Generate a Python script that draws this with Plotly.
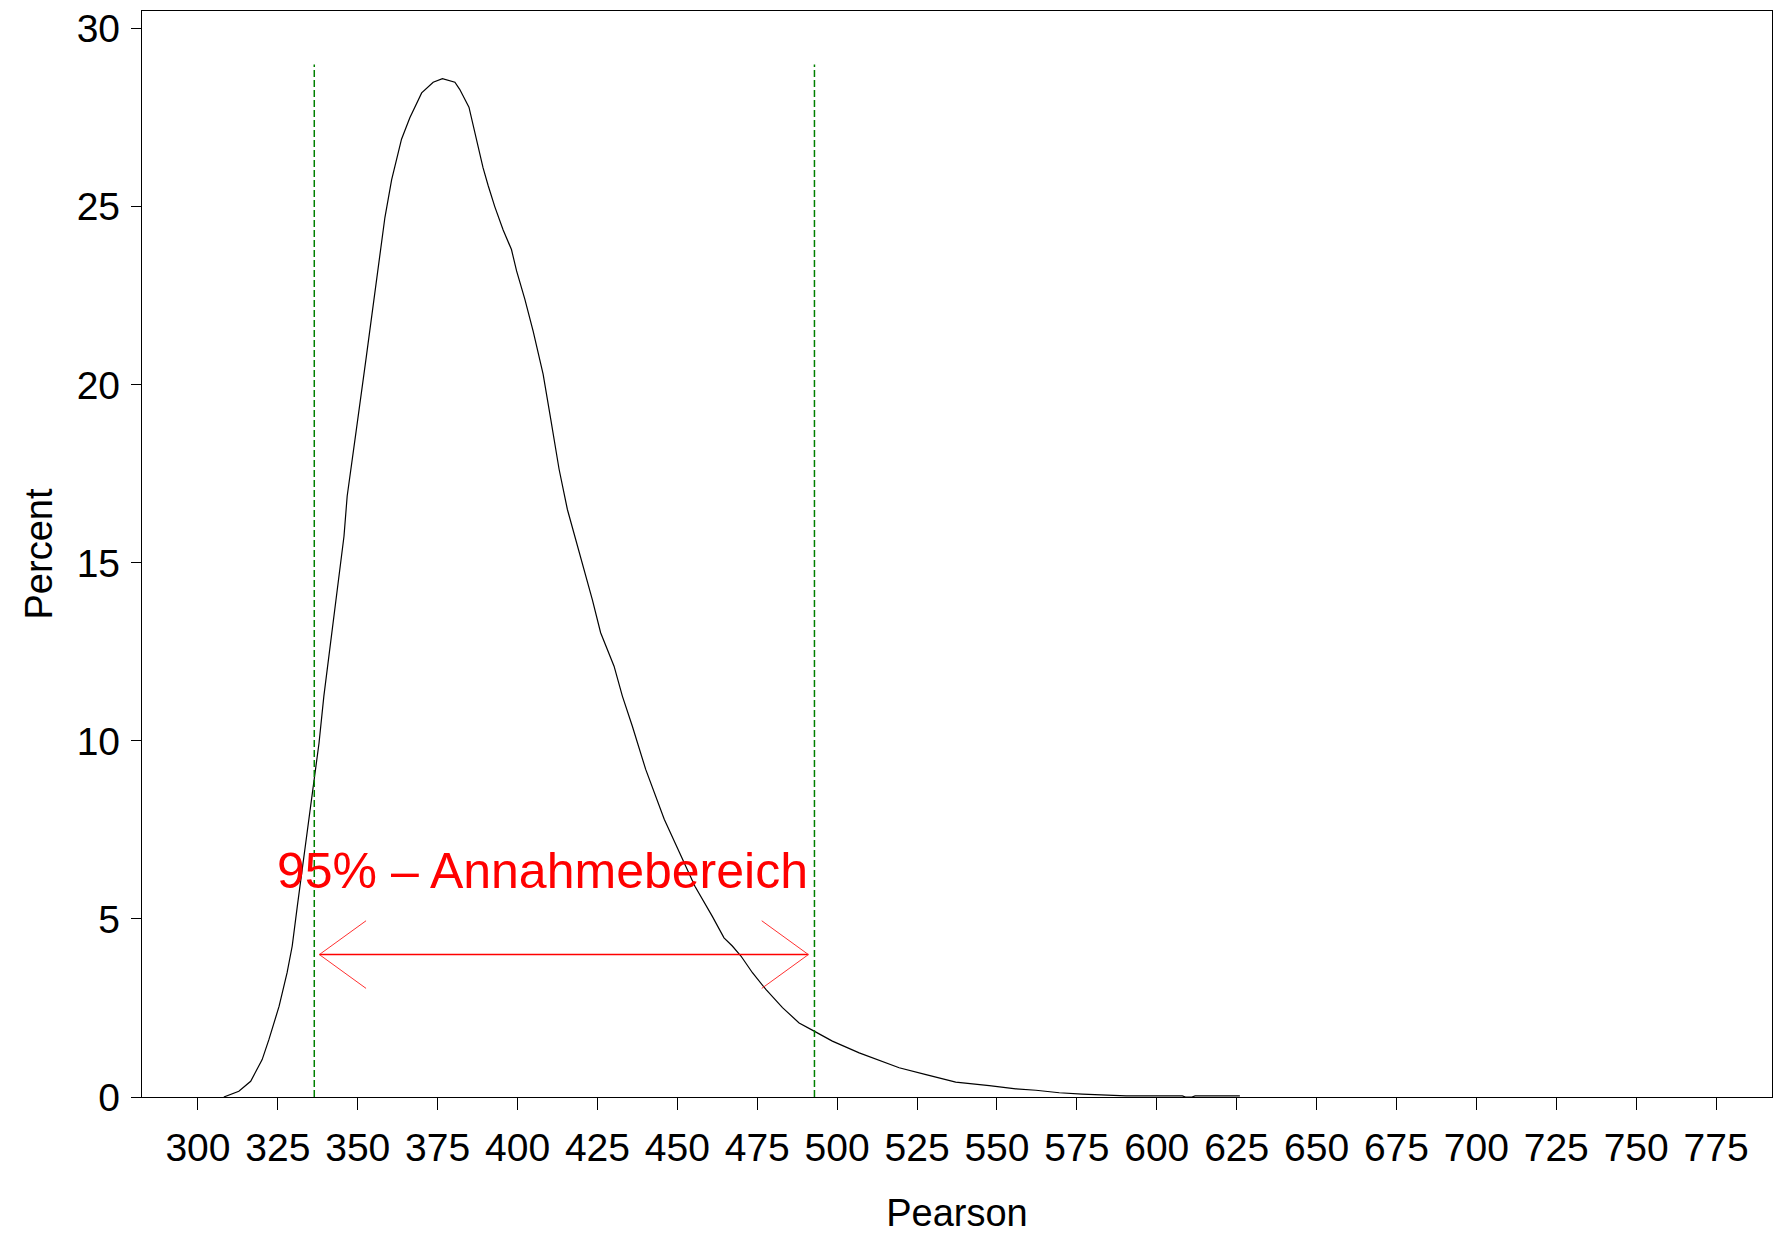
import plotly.graph_objects as go

# Density curve (Pearson statistic vs percent)
pearson = [308.1, 312.8, 316.5, 320.1, 322.2, 325.4, 327.9, 329.5, 331.1, 332.6,
           334.7, 336.3, 337.9, 339.4, 341.0, 342.6, 344.1, 345.7, 346.7, 348.3,
           349.5, 352.7, 354.8, 356.9, 358.5, 360.6, 363.7, 366.3, 370.0, 373.6,
           376.5, 380.4, 381.9, 384.8, 387.2, 389.2, 390.8, 392.9, 395.5, 398.1,
           399.7, 402.3, 404.9, 408.0, 410.4, 413.0, 415.6, 418.2, 420.8, 423.4,
           426.0, 430.2, 432.8, 435.9, 440.1, 445.9, 450.7, 455.5, 460.9, 464.6,
           467.2, 469.9, 473.5, 477.7, 482.9, 488.1, 492.8, 498.5, 506.9, 514.2,
           519.4, 527.8, 537.1, 547.6, 555.9, 562.2, 569.5, 576.7, 590.4, 608.0,
           609.0, 611.0, 612.0, 626.0]
percent = [0.0, 0.16, 0.44, 1.05, 1.61, 2.55, 3.49, 4.24, 5.36, 6.39,
           7.89, 8.92, 9.95, 11.26, 12.38, 13.5, 14.63, 15.75, 16.88, 18.0,
           18.7, 20.8, 22.2, 23.7, 24.7, 25.76, 26.9, 27.5, 28.2, 28.5,
           28.6, 28.5, 28.3, 27.8, 26.9, 26.1, 25.6, 25.0, 24.35, 23.8,
           23.2, 22.4, 21.5, 20.3, 19.03, 17.63, 16.5, 15.66, 14.82, 13.97,
           13.04, 12.1, 11.26, 10.42, 9.2, 7.8, 6.86, 5.92, 5.08, 4.47,
           4.24, 3.96, 3.49, 3.02, 2.51, 2.08, 1.85, 1.57, 1.24, 1.0,
           0.82, 0.63, 0.42, 0.32, 0.23, 0.19, 0.12, 0.08, 0.03, 0.03,
           0.0, 0.0, 0.03, 0.03]

# Acceptance region limits
lower_limit = 336.4
upper_limit = 492.9
limit_top = 29.0

# Arrow
arrow_y = 4.0
arrow_x0 = 338.0
arrow_x1 = 491.0
head_dx = 14.6
head_dy = 0.95
label_text = "95% \u2013 Annahmebereich"
label_x = 407.7
label_y = 6.35

x_ticks = list(range(300, 800, 25))
y_ticks = [0, 5, 10, 15, 20, 25, 30]

FONT = "Liberation Sans, Arial, Helvetica, sans-serif"

fig = go.Figure()

fig.add_trace(go.Scatter(x=pearson, y=percent, mode="lines",
                         line=dict(color="black", width=1.2), showlegend=False,
                         hoverinfo="skip"))

for xv in (lower_limit, upper_limit):
    fig.add_trace(go.Scatter(x=[xv, xv], y=[0, limit_top], mode="lines",
                             line=dict(color="#008000", width=1.5, dash="7px,3px"),
                             showlegend=False, hoverinfo="skip"))

# arrow shaft
fig.add_trace(go.Scatter(x=[arrow_x0, arrow_x1], y=[arrow_y, arrow_y], mode="lines",
                         line=dict(color="#ff0000", width=1.5), showlegend=False,
                         hoverinfo="skip"))
# arrow heads (open V)
fig.add_trace(go.Scatter(
    x=[arrow_x0 + head_dx, arrow_x0, arrow_x0 + head_dx, None,
       arrow_x1 - head_dx, arrow_x1, arrow_x1 - head_dx],
    y=[arrow_y + head_dy, arrow_y, arrow_y - head_dy, None,
       arrow_y + head_dy, arrow_y, arrow_y - head_dy],
    mode="lines", line=dict(color="#ff3030", width=1.0), showlegend=False,
    hoverinfo="skip"))

fig.add_annotation(x=label_x, y=label_y, xref="x", yref="y", text=label_text,
                   showarrow=False, xanchor="center", yanchor="middle",
                   font=dict(family=FONT, size=50, color="#ff0000"))

fig.update_layout(
    width=1775, height=1234,
    margin=dict(l=142, r=3, t=11, b=137, autoexpand=False),
    paper_bgcolor="white", plot_bgcolor="white",
    font=dict(family=FONT, color="black"),
    xaxis=dict(range=[282.5, 792.5], tickvals=x_ticks,
               ticktext=[str(v) for v in x_ticks],
               ticks="outside", ticklen=12, tickwidth=1.3, tickcolor="black",
               showline=True, linecolor="black", linewidth=1.3, mirror=True,
               showgrid=False, zeroline=False,
               tickfont=dict(family=FONT, size=39, color="black"),
               ticklabelstandoff=4,
               title=dict(text="Pearson", font=dict(family=FONT, size=38, color="black"),
                          standoff=32)),
    yaxis=dict(range=[0, 30.5], tickvals=y_ticks,
               ticktext=[str(v) for v in y_ticks],
               ticks="outside", ticklen=10, tickwidth=1.3, tickcolor="black",
               showline=True, linecolor="black", linewidth=1.3, mirror=True,
               showgrid=False, zeroline=False,
               tickfont=dict(family=FONT, size=39, color="black"),
               ticklabelstandoff=3,
               title=dict(text="Percent", font=dict(family=FONT, size=38, color="black"),
                          standoff=12)),
)

fig.write_html("out.html", config={"displayModeBar": False},
               post_script="document.body.style.margin='0';document.body.style.overflow='hidden';")
